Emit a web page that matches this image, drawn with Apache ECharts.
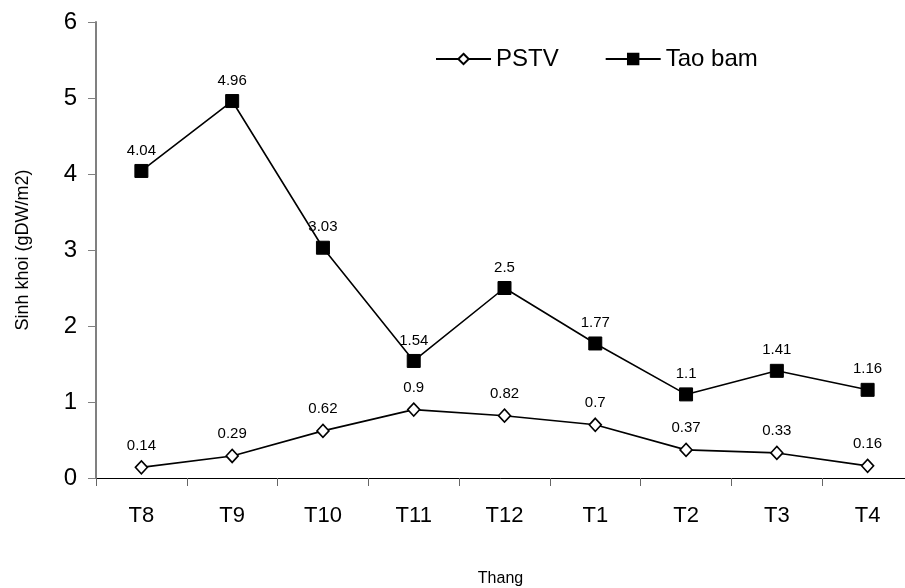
<!DOCTYPE html>
<html>
<head>
<meta charset="utf-8">
<script src="https://cdn.jsdelivr.net/npm/echarts@6/dist/echarts.min.js"></script>
<style>
  html, body { margin: 0; padding: 0; background: #fff; }
  #chart { width: 905px; height: 588px; }
</style>
</head>
<body>
<div id="chart"></div>
<script>
// Months on the horizontal axis
const months = ['T8', 'T9', 'T10', 'T11', 'T12', 'T1', 'T2', 'T3', 'T4'];
// Biomass (gDW/m2) per series
const pstv = [0.14, 0.29, 0.62, 0.9, 0.82, 0.7, 0.37, 0.33, 0.16];
const taoBam = [4.04, 4.96, 3.03, 1.54, 2.5, 1.77, 1.1, 1.41, 1.16];
const yTicks = [0, 1, 2, 3, 4, 5, 6];

const FONT = 'Liberation Sans, Arial, sans-serif';
const chart = echarts.init(document.getElementById('chart'));

chart.setOption({
  animation: false,
  backgroundColor: '#ffffff',
  textStyle: { fontFamily: FONT, color: '#000' },
  grid: { left: 96, right: -8, top: 22, bottom: 110, outerBoundsMode: 'none', containLabel: false },
  legend: {
    top: 42,
    left: 430,
    itemWidth: 55,
    itemHeight: 13,
    itemGap: 46,
    textStyle: { fontFamily: FONT, fontSize: 24, color: '#000', padding: [0, 0, 0, 0] },
    data: ['PSTV', 'Tao bam']
  },
  xAxis: {
    type: 'category',
    data: months,
    name: 'Thang',
    nameLocation: 'middle',
    nameGap: 93,
    nameTextStyle: { fontFamily: FONT, fontSize: 16, color: '#000', padding: [0, 0, 0, -8] },
    axisLine: { lineStyle: { color: '#000', width: 1 } },
    axisTick: { show: true, length: 8, lineStyle: { color: '#666' } },
    axisLabel: { fontFamily: FONT, fontSize: 22, color: '#000', margin: 27 }
  },
  yAxis: {
    type: 'value',
    min: yTicks[0],
    max: yTicks[yTicks.length - 1],
    interval: 1,
    name: 'Sinh khoi (gDW/m2)',
    nameLocation: 'middle',
    nameRotate: 90,
    nameGap: 64,
    nameTextStyle: { fontFamily: FONT, fontSize: 18, color: '#000' },
    axisLine: { show: true, lineStyle: { color: '#808080', width: 2 } },
    axisTick: { show: true, length: 8, lineStyle: { color: '#808080' } },
    axisLabel: { fontFamily: FONT, fontSize: 24, color: '#000', margin: 19 },
    splitLine: { show: false }
  },
  series: [
    {
      name: 'PSTV',
      type: 'line',
      data: pstv,
      symbol: 'diamond',
      symbolSize: [12, 13],
      itemStyle: { color: '#fff', borderColor: '#000', borderWidth: 1.6 },
      lineStyle: { color: '#000', width: 1.6 },
      label: { show: true, position: 'top', distance: 7, fontFamily: FONT, fontSize: 15, color: '#000' }
    },
    {
      name: 'Tao bam',
      type: 'line',
      data: taoBam,
      symbol: 'rect',
      symbolSize: 13,
      itemStyle: { color: '#000', borderColor: '#000', borderWidth: 1 },
      lineStyle: { color: '#000', width: 1.6 },
      label: { show: true, position: 'top', distance: 6, fontFamily: FONT, fontSize: 15, color: '#000' }
    }
  ]
});
</script>
</body>
</html>
